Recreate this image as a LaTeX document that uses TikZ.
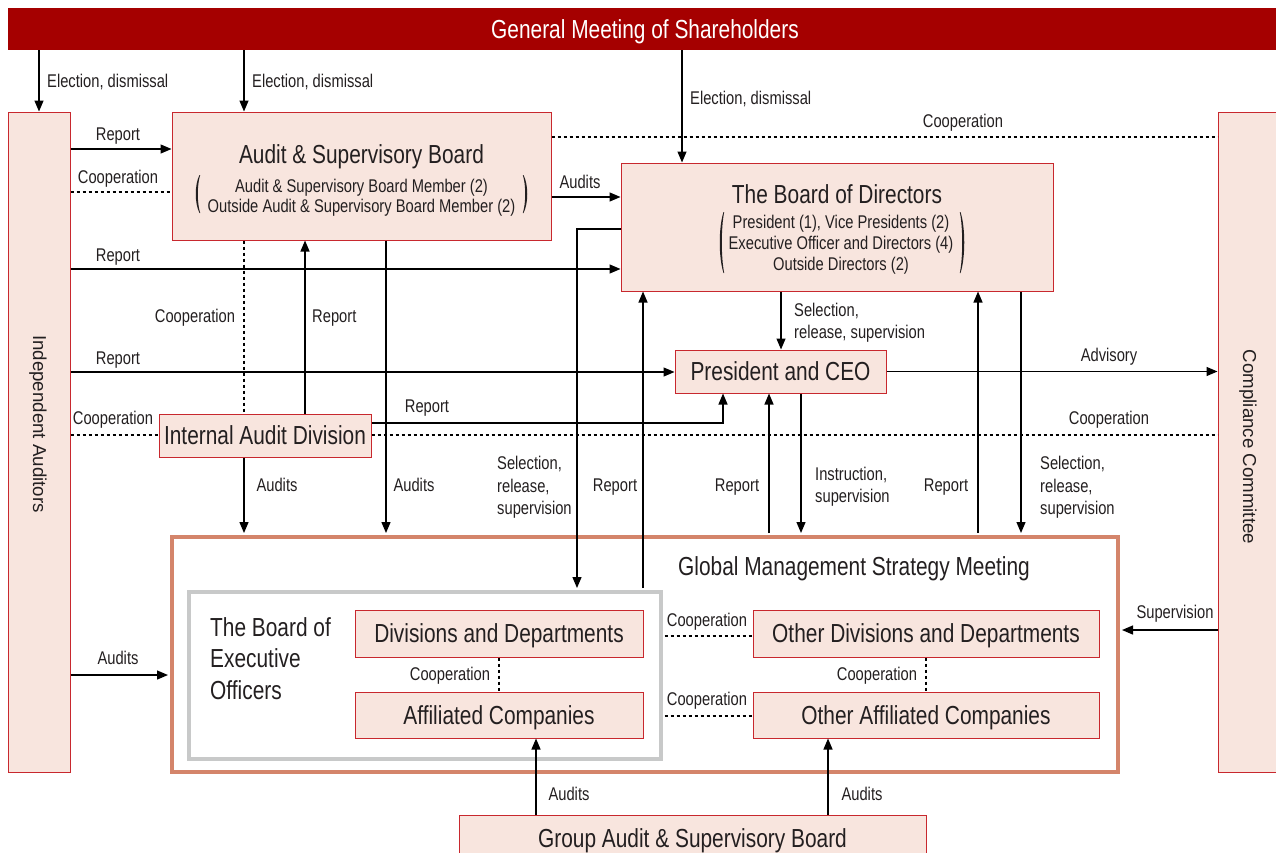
\documentclass[tikz,border=0pt]{standalone}
\usepackage{fontspec}
\setmainfont{Liberation Sans}[FakeStretch=0.8]
\newfontfamily\sidefont{Liberation Sans}
\usetikzlibrary{arrows.meta}
\definecolor{barred}{HTML}{A50000}
\definecolor{boxfill}{HTML}{F8E5DE}
\definecolor{boxred}{HTML}{C8282E}
\definecolor{gmsorange}{HTML}{D4856B}
\definecolor{greyline}{HTML}{C8C9C9}
\definecolor{ink}{HTML}{231F20}
\newcommand{\labfont}{\fontsize{18.4}{22.5}\selectfont}
\newcommand{\bigfont}{\fontsize{26.1}{31.5}\selectfont}
\tikzset{
  box/.style={draw=boxred, fill=boxfill, line width=1pt, inner sep=0pt},
  boxtxt/.style={box, font=\bigfont, text=ink, text height=18.7pt, text depth=0pt},
  bigtxt/.style={font=\bigfont, text=ink, inner sep=0pt, yshift=-2pt},
  lab/.style={font=\labfont, text=ink, inner sep=0pt, yshift=-2.5pt},
  sidetxt/.style={font=\sidefont\fontsize{18.7}{22}\selectfont, text=ink, inner sep=0pt},
  arr/.style={draw=black, line width=1.3pt, -{Triangle[length=11pt,width=9pt]}},
  coop/.style={draw=black, line width=1.2pt, dash pattern=on 3pt off 3pt},
  pics/lpar/.style={code={
    \fill[ink] (1.5,-#1/2) .. controls (-3.5,-#1/4) and (-3.5,#1/4) .. (1.5,#1/2)
      -- (2.2,#1/2) .. controls (-1,#1/4) and (-1,-#1/4) .. (2.2,-#1/2) -- cycle;}},
}
\begin{document}
\begin{tikzpicture}[x=1pt,y=-1pt]
\useasboundingbox (0,0) rectangle (1276,852);

% ---- boxes ----
\node[fill=barred, text=white, font=\bigfont, inner sep=0pt, text height=18.7pt, text depth=0pt,
      minimum width=1274pt, minimum height=42pt] (gms) at (645,29) {General Meeting of Shareholders};

\node[box, minimum width=62pt, minimum height=660pt] (ia) at (39,442) {};
\node[sidetxt, rotate=-90] (iatxt) at (38,424) {Independent Auditors};
\node[box, minimum width=72pt, minimum height=660pt] (cc) at (1254,442) {};
\node[sidetxt, rotate=-90] (cctxt) at (1248,447) {Compliance Committee};

\node[box, minimum width=379pt, minimum height=128pt] (asb) at (361.5,176) {};
\node[bigtxt] (asbt) at (361.5,155) {Audit \& Supervisory Board};
\node[lab, align=center, font=\fontsize{18.4}{20.5}\selectfont] (asbm) at (361.5,195)
  {Audit \& Supervisory Board Member (2)\\Outside Audit \& Supervisory Board Member (2)};
\pic at (198,194) {lpar=38};
\pic[xscale=-1] at (525,194) {lpar=38};

\node[box, minimum width=432pt, minimum height=128pt] (bod) at (837,227) {};
\node[bigtxt] (bodt) at (837,192) {The Board of Directors};
\node[lab, align=center, font=\fontsize{18.4}{21}\selectfont] (bodm) at (841,242)
  {President (1), Vice Presidents (2)\\Executive Officer and Directors (4)\\Outside Directors (2)};
\pic at (722,242.5) {lpar=61};
\pic[xscale=-1] at (962,242.5) {lpar=61};

\node[boxtxt, minimum width=211pt, minimum height=43pt] (ceo) at (780.5,371.5) {President and CEO};
\node[boxtxt, minimum width=212pt, minimum height=43pt] (iad) at (265,435.5) {Internal Audit Division};

\node[draw=gmsorange, line width=4pt, minimum width=946pt, minimum height=235pt, inner sep=0pt] (gmsm) at (645,654.5) {};
\node[bigtxt] (gmst) at (854,567) {Global Management Strategy Meeting};
\node[draw=greyline, line width=4pt, minimum width=472pt, minimum height=167pt, inner sep=0pt] (beo) at (424.5,675.5) {};
\node[bigtxt, align=left, anchor=west] (beot) at (210,656.5) {The Board of\\Executive\\Officers};

\node[boxtxt, minimum width=288pt, minimum height=47pt] (div) at (499,633.5) {Divisions and Departments};
\node[boxtxt, minimum width=288pt, minimum height=46pt] (aff) at (499,715) {Affiliated Companies};
\node[boxtxt, minimum width=346pt, minimum height=47pt] (odiv) at (926,633.5) {Other Divisions and Departments};
\node[boxtxt, minimum width=346pt, minimum height=46pt] (oaff) at (926,715) {Other Affiliated Companies};

\node[boxtxt, minimum width=467pt, minimum height=46pt] (gasb) at (692.5,838) {Group Audit \& Supervisory Board};

% ---- connectors ----
\draw[arr] (gms.south -| 39,0) -- (ia.north -| 39,0);
\draw[arr] (gms.south -| 244,0) -- (asb.north -| 244,0);
\draw[arr] (gms.south -| 682,0) -- (bod.north -| 682,0);

\draw[arr] (ia.east |- 0,149) -- (asb.west |- 0,149);
\draw[coop] (ia.east |- 0,192) -- (asb.west |- 0,192);
\draw[arr] (asb.east |- 0,197) -- (bod.west |- 0,197);
\draw[coop] (asb.east |- 0,137) -- (cc.west |- 0,137);
\draw[arr] (ia.east |- 0,269) -- (bod.west |- 0,269);

\draw[coop] (asb.south -| 244,0) -- (iad.north -| 244,0);
\draw[arr] (iad.north -| 305,0) -- (asb.south -| 305,0);
\draw[arr, shorten >=2pt] (asb.south -| 386,0) -- (gmsm.north -| 386,0);
\draw[arr] (ia.east |- 0,372) -- (ceo.west |- 0,372);
\draw[coop] (ia.east |- 0,435) -- (iad.west |- 0,435);
\draw[coop] (iad.east |- 0,435) -- (cc.west |- 0,435);
\draw[arr] (iad.east |- 0,423) -| (ceo.south -| 723,0);
\draw[arr, shorten >=2pt] (iad.south -| 244,0) -- (gmsm.north -| 244,0);

\draw[arr, shorten >=2pt] (bod.west |- 0,229) -| (beo.north -| 577,0);
\draw[arr, shorten <=2pt] (beo.north -| 643,0) -- (bod.south -| 643,0);
\draw[arr] (bod.south -| 781,0) -- (ceo.north -| 781,0);
\draw[arr] (ceo.east) -- (cc.west |- ceo.east);
\draw[arr, shorten <=2pt] (gmsm.north -| 769,0) -- (ceo.south -| 769,0);
\draw[arr, shorten >=2pt] (ceo.south -| 801,0) -- (gmsm.north -| 801,0);
\draw[arr, shorten <=2pt] (gmsm.north -| 978,0) -- (bod.south -| 978,0);
\draw[arr, shorten >=2pt] (bod.south -| 1021,0) -- (gmsm.north -| 1021,0);
\draw[arr, shorten >=2pt] (cc.west |- 0,630) -- (gmsm.east |- 0,630);
\draw[arr, shorten >=2pt] (ia.east |- 0,675) -- (gmsm.west |- 0,675);

\draw[coop, shorten <=2pt] (beo.east |- 0,636) -- (odiv.west |- 0,636);
\draw[coop, shorten <=2pt] (beo.east |- 0,716) -- (oaff.west |- 0,716);
\draw[coop] (div.south -| 499,0) -- (aff.north -| 499,0);
\draw[coop] (odiv.south -| 926,0) -- (oaff.north -| 926,0);
\draw[arr] (gasb.north -| 536,0) -- (aff.south -| 536,0);
\draw[arr] (gasb.north -| 828,0) -- (oaff.south -| 828,0);

% ---- connector labels ----
\node[lab, anchor=mid west] (l01) at (47,82) {Election, dismissal};
\node[lab, anchor=mid west] (l02) at (252,82) {Election, dismissal};
\node[lab, anchor=mid west] (l03) at (690,99) {Election, dismissal};
\node[lab, anchor=mid] (l04) at (118,135) {Report};
\node[lab, anchor=mid] (l05) at (118,178) {Cooperation};
\node[lab, anchor=mid] (l06) at (580,183) {Audits};
\node[lab, anchor=mid] (l07) at (963,122) {Cooperation};
\node[lab, anchor=mid] (l08) at (118,256) {Report};
\node[lab, anchor=mid] (l09) at (195,317) {Cooperation};
\node[lab, anchor=mid west] (l10) at (312,317) {Report};
\node[lab, anchor=mid] (l11) at (118,359) {Report};
\node[lab, anchor=mid] (l12) at (113,419) {Cooperation};
\node[lab, anchor=mid] (l13) at (427,407) {Report};
\node[lab, anchor=mid] (l14) at (1109,419) {Cooperation};
\node[lab, anchor=mid] (l15) at (1109,356) {Advisory};
\node[lab, anchor=west, align=left] (l16) at (794,320) {Selection,\\release, supervision};
\node[lab, anchor=mid] (l17) at (277,486) {Audits};
\node[lab, anchor=mid] (l18) at (414,486) {Audits};
\node[lab, anchor=west, align=left] (l19) at (497,485) {Selection,\\release,\\supervision};
\node[lab, anchor=mid] (l20) at (615,486) {Report};
\node[lab, anchor=mid] (l21) at (737,486) {Report};
\node[lab, anchor=west, align=left] (l22) at (815,484) {Instruction,\\supervision};
\node[lab, anchor=mid] (l23) at (946,486) {Report};
\node[lab, anchor=west, align=left] (l24) at (1040,485) {Selection,\\release,\\supervision};
\node[lab, anchor=mid] (l25) at (1175,613) {Supervision};
\node[lab, anchor=mid] (l26) at (118,659) {Audits};
\node[lab, anchor=mid] (l27) at (707,621) {Cooperation};
\node[lab, anchor=mid] (l28) at (707,700) {Cooperation};
\node[lab, anchor=mid] (l29) at (450,675) {Cooperation};
\node[lab, anchor=mid] (l30) at (877,675) {Cooperation};
\node[lab, anchor=mid] (l31) at (569,795) {Audits};
\node[lab, anchor=mid] (l32) at (862,795) {Audits};
\end{tikzpicture}
\end{document}
